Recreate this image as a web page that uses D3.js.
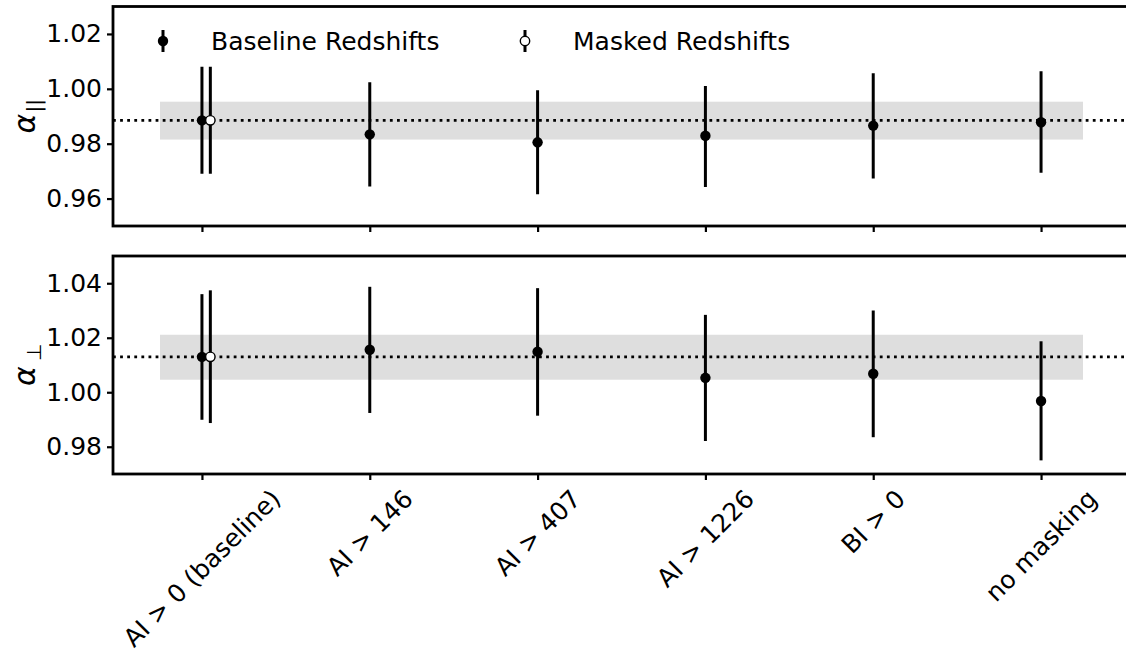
<!DOCTYPE html>
<html><head><meta charset="utf-8">
<script src="https://cdn.jsdelivr.net/npm/d3@7"></script>
<style>body{margin:0;background:#fff}</style>
</head><body><svg id="c" width="1126" height="655"></svg>
<script>
// ---- data ----
const categories = ["AI > 0 (baseline)", "AI > 146", "AI > 407", "AI > 1226", "BI > 0", "no masking"];
const parVal = [0.9885, 0.9834, 0.9805, 0.9829, 0.9866, 0.9878];
const parLo  = [0.9690, 0.9644, 0.9616, 0.9642, 0.9673, 0.9694];
const parHi  = [1.0080, 1.0024, 0.9995, 1.0010, 1.0057, 1.0064];
const perpVal = [1.0130, 1.0156, 1.0149, 1.0053, 1.0068, 0.9968];
const perpLo  = [0.9899, 0.9924, 0.9914, 0.9821, 0.9835, 0.9750];
const perpHi  = [1.0360, 1.0387, 1.0382, 1.0284, 1.0300, 1.0187];
const maskedPar  = [0.9885, 0.9690, 1.0080];   // value, lo, hi
const maskedPerp = [1.0130, 0.9887, 1.0374];
const parRef = [0.9885, 0.9815, 0.9953];      // line, band lo, band hi
const perpRef = [1.0130, 1.0046, 1.0211];
const parTicks = [0.96, 0.98, 1.00, 1.02];
const perpTicks = [0.98, 1.00, 1.02, 1.04];
const legendLabels = ["Baseline Redshifts", "Masked Redshifts"];

// ---- layout ----
const FONT = "DejaVu Sans";
const FS = 25;
const svg = d3.select("#c");
const x = d3.scaleLinear().domain([-0.53, 5.53]).range([113, 1130]);
const panels = [
  {val: parVal, lo: parLo, hi: parHi, masked: maskedPar, ref: parRef, ticks: parTicks,
   y: d3.scaleLinear().domain([0.95, 1.03]).range([226, 6.5]), sub: "||"},
  {val: perpVal, lo: perpLo, hi: perpHi, masked: maskedPerp, ref: perpRef, ticks: perpTicks,
   y: d3.scaleLinear().domain([0.97, 1.05]).range([474, 256]), sub: "\u22a5"}
];
const idx = d3.range(categories.length);

panels.forEach((p, pi) => {
  const y = p.y;
  const [y0, y1] = y.range();
  const g = svg.append("g");
  const cid = "clip" + pi;
  svg.append("clipPath").attr("id", cid).append("rect")
    .attr("x", x.range()[0]).attr("y", y1).attr("width", x.range()[1] - x.range()[0]).attr("height", y0 - y1);
  const plot = g.append("g").attr("clip-path", `url(#${cid})`);
  plot.append("rect")
    .attr("x", x(-0.25)).attr("width", x(5.25) - x(-0.25))
    .attr("y", y(p.ref[2])).attr("height", y(p.ref[1]) - y(p.ref[2]))
    .attr("fill", "#dedede");
  plot.append("line")
    .attr("x1", x.range()[0]).attr("x2", x.range()[1])
    .attr("y1", y(p.ref[0])).attr("y2", y(p.ref[0]))
    .attr("stroke", "#000").attr("stroke-width", 2.8).attr("stroke-dasharray", "2.8,4.3");
  plot.selectAll(".eb").data(idx).join("line")
    .attr("x1", i => x(i)).attr("x2", i => x(i))
    .attr("y1", i => y(p.lo[i])).attr("y2", i => y(p.hi[i]))
    .attr("stroke", "#000").attr("stroke-width", 3);
  plot.selectAll(".pt").data(idx).join("circle")
    .attr("cx", i => x(i)).attr("cy", i => y(p.val[i])).attr("r", 5.2).attr("fill", "#000");
  plot.append("line")
    .attr("x1", x(0.05)).attr("x2", x(0.05))
    .attr("y1", y(p.masked[1])).attr("y2", y(p.masked[2]))
    .attr("stroke", "#000").attr("stroke-width", 3);
  plot.append("circle").attr("cx", x(0.05)).attr("cy", y(p.masked[0])).attr("r", 4.7)
    .attr("fill", "#fff").attr("stroke", "#000").attr("stroke-width", 1.4);

  const ya = g.append("g").attr("transform", `translate(${x.range()[0]},0)`)
    .call(d3.axisLeft(y).tickValues(p.ticks).tickFormat(d3.format(".2f")).tickSize(6).tickPadding(5));
  ya.select(".domain").remove();
  ya.selectAll(".tick line").attr("stroke-width", 2.2);
  ya.selectAll(".tick text").attr("font-family", FONT).attr("font-size", FS).attr("fill", "#000");
  const xa = g.append("g").attr("transform", `translate(0,${y0})`)
    .call(d3.axisBottom(x).tickValues(idx).tickFormat(() => "").tickSize(6));
  xa.select(".domain").remove();
  xa.selectAll(".tick line").attr("stroke-width", 2.2);
  g.append("rect").attr("x", x.range()[0]).attr("y", y1)
    .attr("width", x.range()[1] - x.range()[0]).attr("height", y0 - y1)
    .attr("fill", "none").attr("stroke", "#000").attr("stroke-width", 2.8);
  const lab = svg.append("text")
    .attr("transform", `translate(35,${(y0 + y1) / 2}) rotate(-90)`)
    .attr("text-anchor", "middle").attr("font-family", FONT).attr("fill", "#000");
  lab.append("tspan").attr("font-style", "italic").attr("font-size", 30).text("\u03b1");
  lab.append("tspan").attr("font-size", 20).attr("dy", 6).attr("dx", pi ? 5 : 1).text(p.sub);
});

const labelTop = 474 + 6 + 4;
categories.forEach((c, i) => {
  const t = svg.append("text")
    .attr("font-family", FONT).attr("font-size", FS).attr("text-anchor", "middle")
    .attr("fill", "#000").attr("y", 0.346 * FS).text(c);
  const w = t.node().getComputedTextLength();
  const H = (w + 1.164 * FS) * Math.SQRT1_2;
  t.attr("transform", `translate(${x(i)},${labelTop + H / 2}) rotate(-45)`);
});

const lg = svg.append("g");
const legX = [163, 525];
legendLabels.forEach((l, k) => {
  const cx = legX[k], cy = 41;
  lg.append("line").attr("x1", cx).attr("x2", cx).attr("y1", cy - 11).attr("y2", cy + 11)
    .attr("stroke", "#000").attr("stroke-width", 3);
  lg.append("circle").attr("cx", cx).attr("cy", cy).attr("r", k ? 4.7 : 5.2)
    .attr("fill", k ? "#fff" : "#000").attr("stroke", "#000").attr("stroke-width", k ? 1.4 : 0);
  lg.append("text").attr("x", cx + 48).attr("y", cy).attr("dy", "0.35em")
    .attr("font-family", FONT).attr("font-size", FS).attr("fill", "#000").text(l);
});
</script></body></html>
